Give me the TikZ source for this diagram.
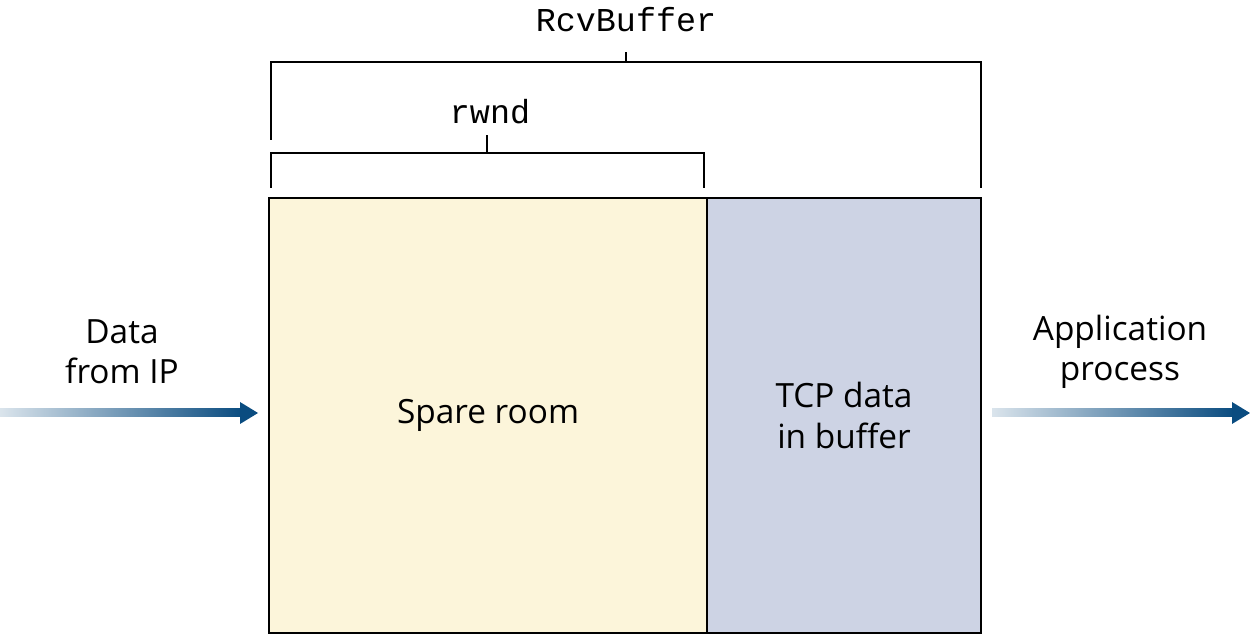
\documentclass[tikz,border=0pt]{standalone}
\usepackage{fontspec}
\setmainfont{Open Sans}
\setmonofont{Liberation Mono}
\usetikzlibrary{positioning}
\definecolor{spare}{HTML}{FCF5DA}
\definecolor{tcpdata}{HTML}{CDD3E4}
\definecolor{flowblue}{HTML}{0A4C80}
\tikzset{
    buf/.style={draw, line width=1.2pt, inner sep=0pt, anchor=north west}, % buffer parts
    lbl/.style={font=\fontsize{19}{23}\selectfont, align=center},
    brace/.style={line width=1.2pt},
    flow/.style={left color=flowblue!15, right color=flowblue}
}
\begin{document}
\begin{tikzpicture}[x=0.02cm, y=-0.02cm]
    \useasboundingbox (0,0) rectangle (1250,634);
    % buffer
    \node[buf, fill=spare, minimum width=438*0.02cm, minimum height=435*0.02cm] (spare) at (268,197) {};
    \node[buf, fill=tcpdata, minimum width=274*0.02cm, minimum height=435*0.02cm] (tcp) at (706,197) {};
    \node[lbl] (sparetxt) at (spare.center) {Spare room};
    \node[lbl] (tcptxt) at (tcp.center) {TCP data\\in buffer};
    % brackets
    \coordinate (rcvL) at (271,140); \coordinate (rcvR) at (981,188);
    \draw[brace] (rcvL) |- (626,62) -| (rcvR);
    \draw[brace] (626,62) -- (626,52);
    \node[font=\ttfamily\fontsize{19}{23}\selectfont] (rcvbuf) at (626,20) {RcvBuffer};
    \coordinate (rwL) at (271,188); \coordinate (rwR) at (704,188);
    \draw[brace] (rwL) |- (487,153) -| (rwR);
    \draw[brace] (487,153) -- (487,135);
    \node[font=\ttfamily\fontsize{19}{23}\selectfont] (rwnd) at (490,112) {rwnd};
    % flows
    \shade[flow] (0,409) rectangle (242,417);
    \fill[flowblue] (240,402) -- (258,413) -- (240,424) -- cycle;
    \node[lbl] (datain) at (122,352) {Data\\from IP};
    \shade[flow] (992,409) rectangle (1234,417);
    \fill[flowblue] (1232,402) -- (1250,413) -- (1232,424) -- cycle;
    \node[lbl] (appout) at (1120,352) {Application\\process};
\end{tikzpicture}
\end{document}
